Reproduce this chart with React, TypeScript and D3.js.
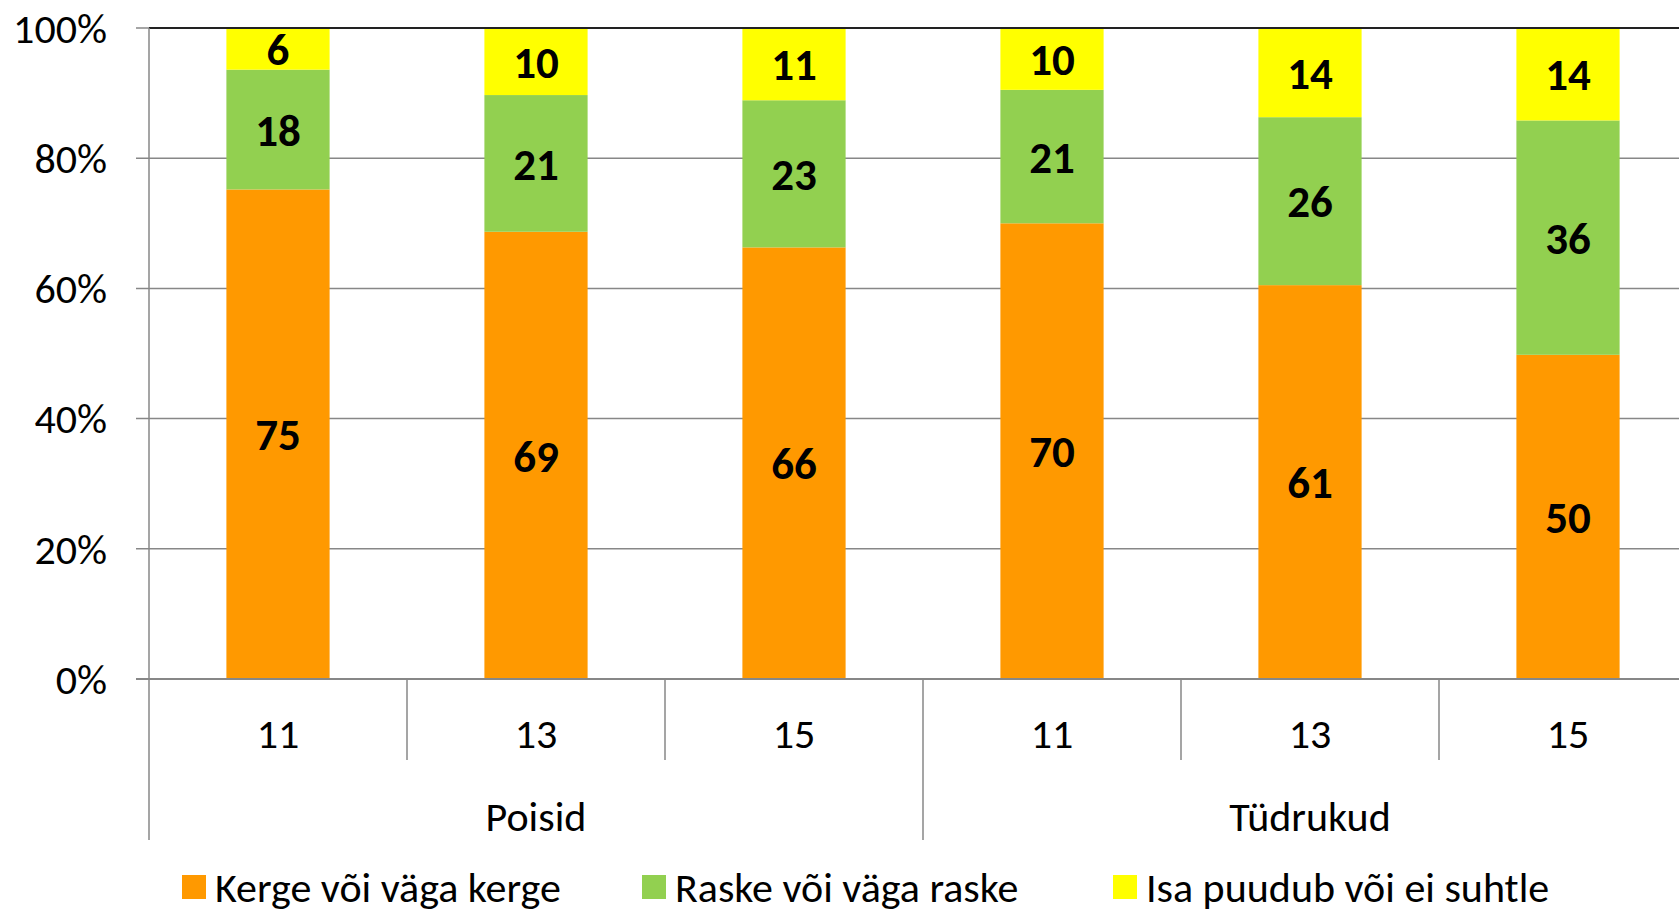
import React, { useEffect, useRef } from "react";
import * as d3 from "d3";

// data (percent shares, labels are rounded)
const groups = ["Poisid", "Tüdrukud"];
const ages = ["11", "13", "15"];
const seriesNames = ["Kerge või väga kerge", "Raske või väga raske", "Isa puudub või ei suhtle"];
const kerge = [75.2, 68.7, 66.3, 70.0, 60.5, 49.8];
const raske = [18.4, 21.0, 22.6, 20.5, 25.8, 36.0];
const puudub = [6.3, 10.3, 11.1, 9.5, 13.7, 14.2];
const yTicks = [0, 20, 40, 60, 80, 100];
const colors = ["#FF9900", "#92D050", "#FFFF00"];

const App = () => {
  const svgRef = useRef<SVGSVGElement>(null);

  useEffect(() => {
    const width = 1679;
    const height = 909;
    const left = 149;
    const step = 258;
    const top = 28;
    const bottom = 679;
    const font = "Calibri, Carlito, Lato, sans-serif";
    const fs = "42px";

    const svg = d3.select(svgRef.current).attr("width", width).attr("height", height);
    svg.selectAll("*").remove();

    const cats = groups.flatMap((g) => ages.map((a) => `${g}-${a}`));
    const rows = cats.map((c, i) => ({ cat: c, k: kerge[i], r: raske[i], p: puudub[i] }));

    const x = d3
      .scaleBand()
      .domain(cats)
      .range([left, left + step * cats.length])
      .paddingInner(0.6)
      .paddingOuter(0.3);
    const y = d3.scaleLinear().domain([0, 100]).range([bottom, top]);

    const layers = d3.stack<any>().keys(["k", "r", "p"])(rows);

    // gridlines
    svg
      .append("g")
      .selectAll("line")
      .data(yTicks.filter((t) => t > 0 && t < 100))
      .enter()
      .append("line")
      .attr("x1", left - 13)
      .attr("x2", width)
      .attr("y1", (d) => y(d))
      .attr("y2", (d) => y(d))
      .style("stroke", "#878787")
      .style("stroke-width", 1.5);

    // y tick labels
    svg
      .append("g")
      .selectAll("text")
      .data(yTicks)
      .enter()
      .append("text")
      .attr("x", 107)
      .attr("y", (d) => y(d))
      .attr("dy", "0.35em")
      .attr("text-anchor", "end")
      .style("font-family", font)
      .style("font-size", fs)
      .text((d) => `${d}%`);

    // bars
    const layerG = svg
      .selectAll("g.layer")
      .data(layers)
      .enter()
      .append("g")
      .attr("class", "layer")
      .attr("fill", (d, i) => colors[i]);

    layerG
      .selectAll("rect")
      .data((d) => d)
      .enter()
      .append("rect")
      .attr("x", (d) => x(d.data.cat)!)
      .attr("width", x.bandwidth())
      .attr("y", (d) => y(d[1]))
      .attr("height", (d) => y(d[0]) - y(d[1]));

    layerG
      .selectAll("text")
      .data((d) => d.map((s) => ({ s, key: d.key })))
      .enter()
      .append("text")
      .attr("x", (d) => x(d.s.data.cat)! + x.bandwidth() / 2)
      .attr("y", (d) => (y(d.s[0]) + y(d.s[1])) / 2)
      .attr("dy", "0.36em")
      .attr("text-anchor", "middle")
      .style("font-family", font)
      .style("font-size", "45px")
      .style("font-weight", "bold")
      .style("fill", "#000")
      .text((d) => Math.round(d.s.data[d.key]));

    // top line
    svg
      .append("line")
      .attr("x1", left - 13)
      .attr("x2", left)
      .attr("y1", top)
      .attr("y2", top)
      .style("stroke", "#878787")
      .style("stroke-width", 1.5);
    svg
      .append("line")
      .attr("x1", left)
      .attr("x2", width)
      .attr("y1", top)
      .attr("y2", top)
      .style("stroke", "#222")
      .style("stroke-width", 2);

    // x axis baseline
    svg
      .append("line")
      .attr("x1", left - 13)
      .attr("x2", width)
      .attr("y1", bottom)
      .attr("y2", bottom)
      .style("stroke", "#878787")
      .style("stroke-width", 2);

    // y axis + category separators
    const seps = d3.range(cats.length + 1);
    svg
      .append("g")
      .selectAll("line")
      .data(seps)
      .enter()
      .append("line")
      .attr("x1", (i) => left + i * step)
      .attr("x2", (i) => left + i * step)
      .attr("y1", (i) => (i === 0 ? top : bottom))
      .attr("y2", (i) => (i % 3 === 0 ? 840 : 760))
      .style("stroke", "#878787")
      .style("stroke-width", 1.5);

    // age labels
    svg
      .append("g")
      .selectAll("text")
      .data(cats)
      .enter()
      .append("text")
      .attr("x", (c) => x(c)! + x.bandwidth() / 2)
      .attr("y", 733)
      .attr("dy", "0.35em")
      .attr("text-anchor", "middle")
      .style("font-family", font)
      .style("font-size", fs)
      .text((c) => c.split("-")[1]);

    // group labels
    svg
      .append("g")
      .selectAll("text")
      .data(groups)
      .enter()
      .append("text")
      .attr("x", (g, i) => left + (i * 3 + 1.5) * step)
      .attr("y", 816)
      .attr("dy", "0.35em")
      .attr("text-anchor", "middle")
      .style("font-family", font)
      .style("font-size", fs)
      .text((g) => g);

    // legend
    const legendX = [182, 642, 1113];
    const legend = svg
      .append("g")
      .selectAll("g")
      .data(seriesNames)
      .enter()
      .append("g")
      .attr("transform", (d, i) => `translate(${legendX[i]}, 887)`);
    legend
      .append("rect")
      .attr("x", 0)
      .attr("y", -12)
      .attr("width", 24)
      .attr("height", 24)
      .attr("fill", (d, i) => colors[i]);
    legend
      .append("text")
      .attr("x", 33)
      .attr("y", 0)
      .attr("dy", "0.35em")
      .style("font-family", font)
      .style("font-size", fs)
      .text((d) => d);
  }, []);

  return (
    <svg
      ref={svgRef}
      style={{ position: "absolute", left: 0, top: 0, background: "#fff" }}
    ></svg>
  );
};

export default App;
